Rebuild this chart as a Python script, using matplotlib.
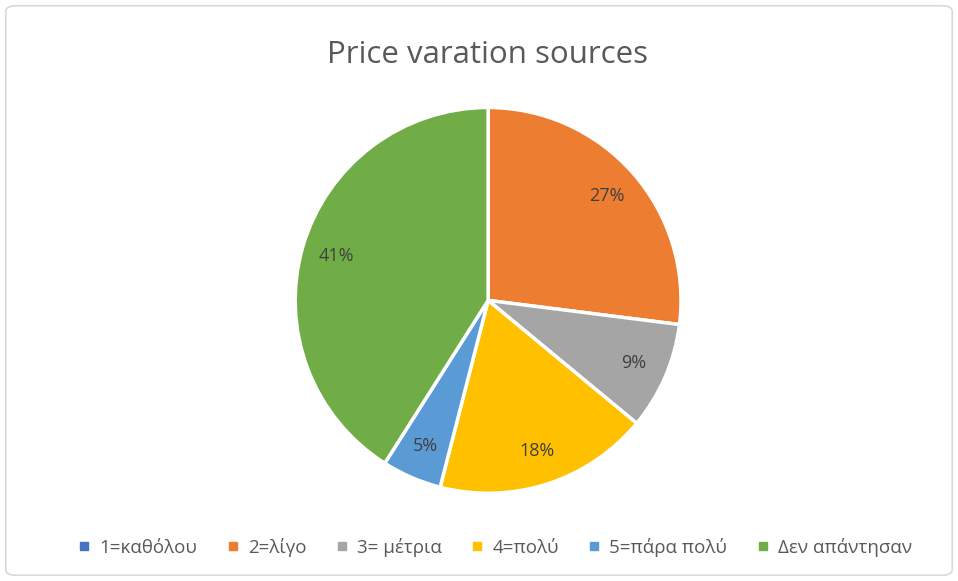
import matplotlib.pyplot as plt
from matplotlib.patches import FancyBboxPatch
from matplotlib.lines import Line2D

labels = ["1=καθόλου", "2=λίγο", "3= μέτρια", "4=πολύ", "5=πάρα πολύ", "Δεν απάντησαν"]
values = [0, 27, 9, 18, 5, 41]
colors = ["#4472C4", "#ED7D31", "#A5A5A5", "#FFC000", "#5B9BD5", "#70AD47"]

plt.rcParams['font.family'] = ['Open Sans', 'DejaVu Sans']

fig = plt.figure(figsize=(9.58, 5.81), dpi=100)
fig.patches.append(FancyBboxPatch((0.006, 0.01), 0.988, 0.98, boxstyle="round,pad=0,rounding_size=0.01",
                                  transform=fig.transFigure, facecolor="none", edgecolor="#D9D9D9",
                                  lw=1.2, zorder=-1))

ax = fig.add_axes([0.308, 0.151, 0.403, 0.664])
wedges, texts, autotexts = ax.pie(values, colors=colors, startangle=90, counterclock=False,
                                  autopct=lambda p: f"{p:.0f}%" if p > 0 else "",
                                  pctdistance=0.82,
                                  wedgeprops=dict(edgecolor="white", linewidth=2.5))
for t in autotexts:
    t.set_color("#404040")
    t.set_fontsize(13)
ax.set_xlim(-1, 1)
ax.set_ylim(-1, 1)
ax.set_aspect("equal")

fig.text(0.509, 0.905, "Price varation sources", ha="center", va="center", fontsize=22.5, color="#595959")

handles = [Line2D([], [], marker="s", linestyle="none", markersize=6, color=c) for c in colors]
fig.legend(handles, labels, loc="center", bbox_to_anchor=(0.516, 0.058), ncol=6, frameon=False,
           fontsize=13.5, labelcolor="#595959", handlelength=0.8, handletextpad=0.4,
           columnspacing=1.5)

fig.savefig("out.png", dpi=100)
